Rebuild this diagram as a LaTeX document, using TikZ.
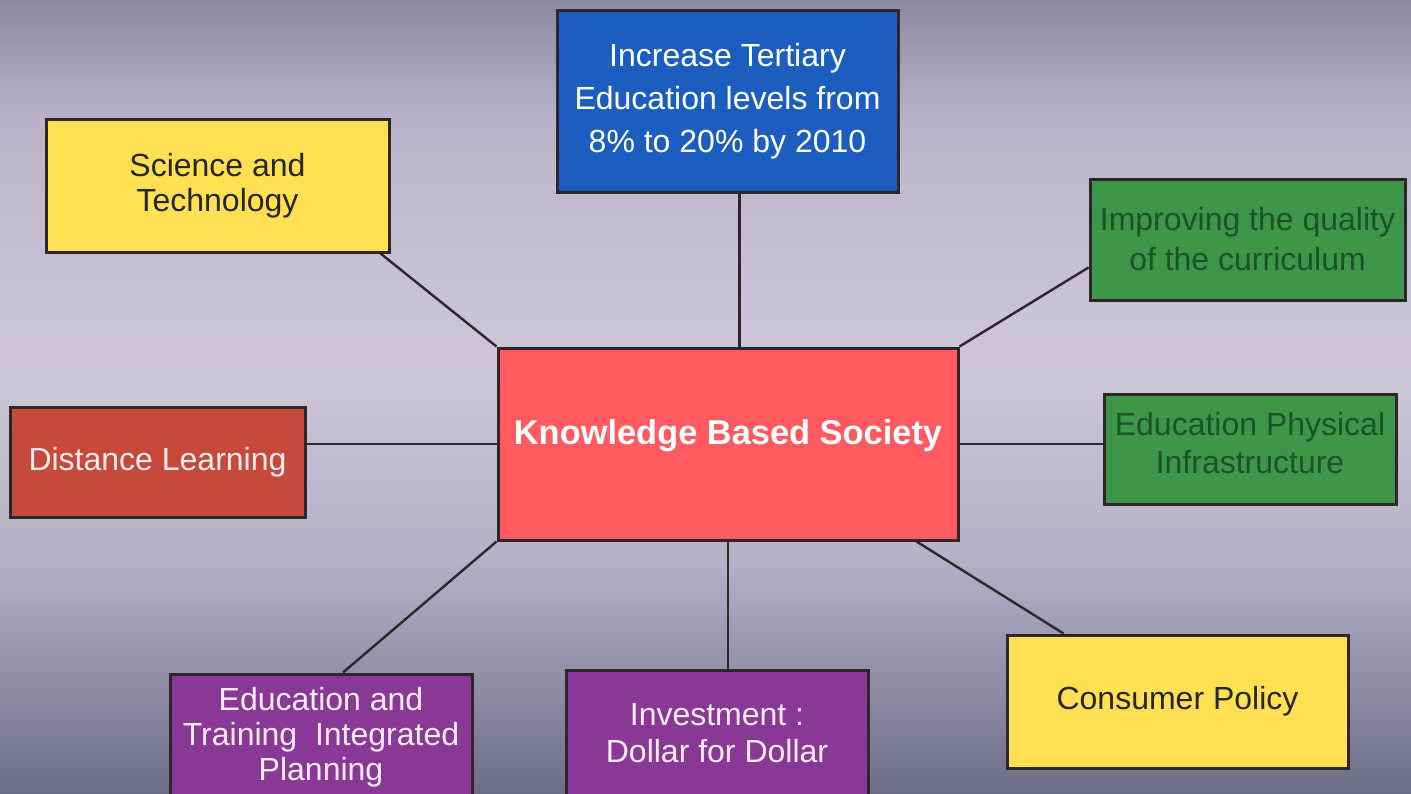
\documentclass[tikz,border=0pt]{standalone}
\usepackage{fontspec}
\setmainfont{Liberation Sans}

\definecolor{yellowbox}{RGB}{255,224,82}
\definecolor{bluebox}{RGB}{28,94,192}
\definecolor{greenbox}{RGB}{62,150,72}
\definecolor{greentext}{RGB}{26,84,40}
\definecolor{brickbox}{RGB}{198,74,60}
\definecolor{redbox}{RGB}{255,90,96}
\definecolor{purplebox}{RGB}{138,56,150}
\definecolor{edge}{RGB}{48,38,42}

\pgfdeclareverticalshading{backdrop}{100bp}{
    rgb(0bp)=(0.43,0.43,0.53);
    rgb(25bp)=(0.43,0.43,0.53);
    rgb(40bp)=(0.71,0.70,0.78);
    rgb(52bp)=(0.80,0.78,0.85);
    rgb(67bp)=(0.73,0.71,0.79);
    rgb(75bp)=(0.55,0.54,0.63);
    rgb(100bp)=(0.55,0.54,0.63)}

\begin{document}
\begin{tikzpicture}[
    x=0.5pt, y=-0.5pt,
    box/.style={rectangle, draw=edge, line width=1.5pt, align=center, inner sep=2pt,
        font=\fontsize{16}{17.5}\selectfont},
    link/.style={draw=edge, line width=1.2pt}
]
    \shade[shading=backdrop] (0,0) rectangle (1411,793);
    \useasboundingbox (0,0) rectangle (1411,793);

    \node[box, fill=redbox, text=white, minimum width=230pt, minimum height=96pt, text depth=11.5pt,
        font=\fontsize{17.2}{20}\selectfont\bfseries] (kbs) at (728,444) {Knowledge Based Society};
    \node[box, fill=yellowbox, text=black!85, minimum width=171.5pt, minimum height=66.5pt] (sci) at (217.5,185.5) {Science and\\Technology};
    \node[box, fill=bluebox, text=white, minimum width=170.5pt, minimum height=91pt,
        font=\fontsize{16}{21.5}\selectfont] (tert) at (727.5,101) {Increase Tertiary\\Education levels from\\8\% to 20\% by 2010};
    \node[box, fill=greenbox, text=greentext, minimum width=157.5pt, minimum height=60.5pt,
        font=\fontsize{16}{20}\selectfont] (curr) at (1247.5,239.5) {Improving the quality\\of the curriculum};
    \node[box, fill=greenbox, text=greentext, minimum width=146pt, minimum height=55pt, text depth=6pt,
        font=\fontsize{16}{19}\selectfont] (infra) at (1250,449) {Education Physical\\Infrastructure};
    \node[box, fill=brickbox, text=white!92!red, minimum width=147.5pt, minimum height=55pt] (dist) at (157.5,462) {Distance Learning};
    \node[box, fill=purplebox, text=white!92!magenta, minimum width=151pt, minimum height=63pt] (etip) at (321,737) {Education and\\Training~~Integrated\\Planning};
    \node[box, fill=purplebox, text=white!92!magenta, minimum width=151pt, minimum height=63pt,
        font=\fontsize{16}{18.5}\selectfont] (inv) at (717,733) {Investment :\\Dollar for Dollar};
    \node[box, fill=yellowbox, text=black!85, minimum width=170.5pt, minimum height=66.5pt] (cons) at (1177.5,701.5) {Consumer Policy};

    \draw[link] ([xshift=-5pt]sci.south east) -- (kbs.north west);
    \draw[link] ([xshift=6pt]tert.south) -- ([xshift=6pt]tert.south |- kbs.north);
    \draw[link] ([yshift=-14pt]curr.west) -- (kbs.north east);
    \draw[link] (kbs.east) -- (kbs.east -| infra.west);
    \draw[link] (kbs.west -| dist.east) -- (kbs.west);
    \draw[link] ([xshift=11pt]etip.north) -- (kbs.south west);
    \draw[link] (kbs.south) -- (kbs.south |- inv.north);
    \draw[link] ([xshift=-21.5pt]kbs.south east) -- ([xshift=29pt]cons.north west);
\end{tikzpicture}
\end{document}
